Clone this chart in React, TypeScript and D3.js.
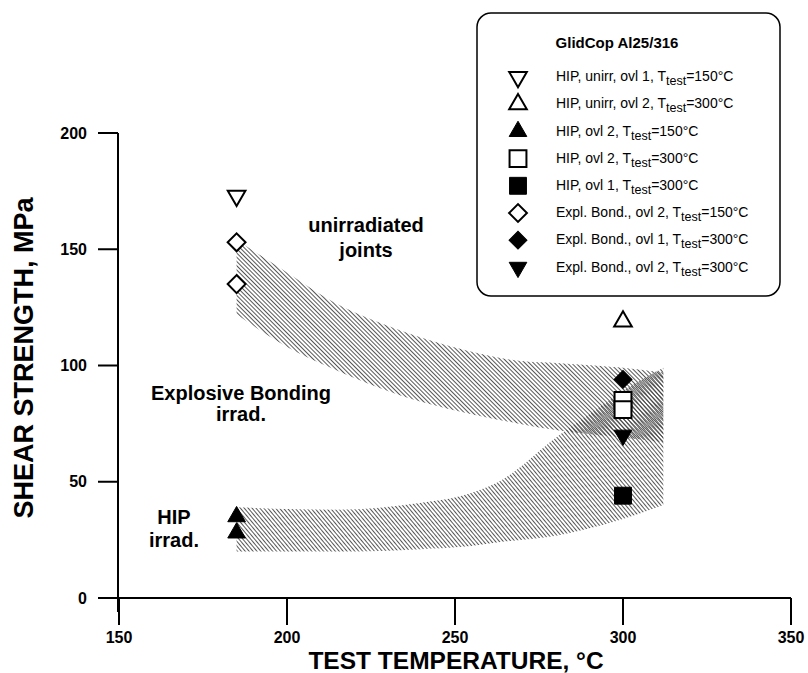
import React from "react";
import * as d3 from "d3";

// ---- data ----
const xTicks = [150, 200, 250, 300, 350];
const yTicks = [0, 50, 100, 150, 200];

// Explosive bonding irradiated band: [temp, low, high]
const ebBandTemps = [185, 200, 213, 234, 252, 269, 281, 300, 312];
const ebBandHigh = [154, 140, 128, 115, 107, 102, 101, 99, 97];
const ebBandLow = [122, 108, 99, 87, 80, 75, 72, 69, 67];

// HIP irradiated band
const hipBandTemps = [185, 215, 240, 252, 263, 281, 290, 300, 312];
const hipBandHigh = [39, 38, 41, 44, 50, 70, 79, 89, 99];
const hipBandLow = [20, 20, 21, 22, 24, 27, 30, 34, 40];

// markers
const hipUnirrOvl1_150: [number, number][] = [[185, 173]];
const hipUnirrOvl2_300: [number, number][] = [[300, 119]];
const hipOvl2_150: [number, number][] = [[185, 35], [185, 28]];
const hipOvl2_300: [number, number][] = [[300, 85], [300, 81]];
const hipOvl1_300: [number, number][] = [[300, 44]];
const ebOvl2_150: [number, number][] = [[185, 153], [185, 135]];
const ebOvl1_300: [number, number][] = [[300, 94]];
const ebOvl2_300: [number, number][] = [[300, 70]];

type Kind = "triDown" | "triUp" | "square" | "diamond";
const seriesList: { label: string; temp: string; kind: Kind; filled: boolean; data: [number, number][] }[] = [
  { label: "HIP, unirr, ovl 1, ", temp: "=150°C", kind: "triDown", filled: false, data: hipUnirrOvl1_150 },
  { label: "HIP, unirr, ovl 2, ", temp: "=300°C", kind: "triUp", filled: false, data: hipUnirrOvl2_300 },
  { label: "HIP, ovl 2, ", temp: "=150°C", kind: "triUp", filled: true, data: hipOvl2_150 },
  { label: "HIP, ovl 2, ", temp: "=300°C", kind: "square", filled: false, data: hipOvl2_300 },
  { label: "HIP, ovl 1, ", temp: "=300°C", kind: "square", filled: true, data: hipOvl1_300 },
  { label: "Expl. Bond., ovl 2, ", temp: "=150°C", kind: "diamond", filled: false, data: ebOvl2_150 },
  { label: "Expl. Bond., ovl 1, ", temp: "=300°C", kind: "diamond", filled: true, data: ebOvl1_300 },
  { label: "Expl. Bond., ovl 2, ", temp: "=300°C", kind: "triDown", filled: true, data: ebOvl2_300 },
];

const FONT = "'Liberation Sans', Arial, Helvetica, sans-serif";

const x = d3.scaleLinear().domain([150, 350]).range([119, 791]);
const y = d3.scaleLinear().domain([0, 200]).range([598, 133]);

function symbolPath(kind: Kind, scale: number) {
  if (kind === "triUp" || kind === "triDown") return d3.symbol(d3.symbolTriangle, 135 * scale)()!;
  if (kind === "square") return d3.symbol(d3.symbolSquare, 285 * scale)()!;
  return d3.symbol(d3.symbolSquare, 160 * scale)()!;
}
function Marker({ kind, filled, cx, cy, scale = 1 }: { kind: Kind; filled: boolean; cx: number; cy: number; scale?: number }) {
  const rot = kind === "triDown" ? 180 : kind === "diamond" ? 45 : 0;
  return (
    <path
      d={symbolPath(kind, scale)}
      transform={`translate(${cx},${cy}) rotate(${rot})`}
      fill={filled ? "#000" : "#fff"}
      stroke="#000"
      strokeWidth={filled ? 1 : 2}
    />
  );
}

function bandPath(temps: number[], low: number[], high: number[]) {
  const area = d3
    .area<number>()
    .x((_, i) => x(temps[i]))
    .y0((_, i) => y(low[i]))
    .y1((_, i) => y(high[i]))
    .curve(d3.curveMonotoneX);
  return area(temps)!;
}

export default function App() {
  const W = 808, H = 673;
  return (
    <svg width={W} height={H} style={{ position: "absolute", left: 0, top: 0, background: "#fff" }} fontFamily={FONT}>
      <defs>
        <pattern id="hatchA" width={3} height={3} patternUnits="userSpaceOnUse" patternTransform="rotate(-45)">
          <line x1={0.5} y1={0} x2={0.5} y2={3} stroke="#444" strokeWidth={0.9} />
        </pattern>
        <pattern id="hatchB" width={3} height={3} patternUnits="userSpaceOnUse" patternTransform="rotate(-40)">
          <line x1={1.5} y1={0} x2={1.5} y2={3} stroke="#444" strokeWidth={0.9} />
        </pattern>
      </defs>
      <rect width={W} height={H} fill="#fff" />

      {/* bands */}
      <path d={bandPath(ebBandTemps, ebBandLow, ebBandHigh)} fill="url(#hatchA)" />
      <path d={bandPath(hipBandTemps, hipBandLow, hipBandHigh)} fill="url(#hatchB)" />

      {/* axes */}
      <line x1={118} y1={y(200)} x2={118} y2={612} stroke="#000" strokeWidth={2} />
      <line x1={118} y1={y(0)} x2={x(350)} y2={y(0)} stroke="#000" strokeWidth={2} />
      {yTicks.map((t) => (
        <g key={"y" + t}>
          <line x1={98} x2={118} y1={y(t)} y2={y(t)} stroke="#000" strokeWidth={2} />
          <text x={87} y={y(t)} dy="0.35em" textAnchor="end" fontSize={16} fontWeight="bold">
            {t}
          </text>
        </g>
      ))}
      {xTicks.map((t) => (
        <g key={"x" + t}>
          <line x1={x(t)} x2={x(t)} y1={y(0)} y2={625} stroke="#000" strokeWidth={2} />
          <text x={x(t)} y={637} dy="0.35em" textAnchor="middle" fontSize={16} fontWeight="bold">
            {t}
          </text>
        </g>
      ))}
      <text x={456} y={669} textAnchor="middle" fontSize={24.5} fontWeight="bold">
        TEST TEMPERATURE, °C
      </text>
      <text transform="translate(33,358) rotate(-90)" textAnchor="middle" fontSize={27} fontWeight="bold">
        SHEAR STRENGTH, MPa
      </text>

      {/* annotations */}
      <g fontSize={20} fontWeight="bold" textAnchor="middle">
        <text x={366} y={232}>unirradiated</text>
        <text x={366} y={257}>joints</text>
        <text x={241} y={400}>Explosive Bonding</text>
        <text x={241} y={421}>irrad.</text>
        <text x={174} y={524}>HIP</text>
        <text x={174} y={547}>irrad.</text>
      </g>

      {/* markers */}
      {seriesList.map((s, i) =>
        s.data.map((d, j) => <Marker key={i + "-" + j} kind={s.kind} filled={s.filled} cx={x(d[0])} cy={y(d[1])} />)
      )}

      {/* legend */}
      <rect x={477} y={13} width={303} height={283} rx={14} fill="#fff" stroke="#000" strokeWidth={1.5} />
      <text x={617} y={48} textAnchor="middle" fontSize={15} fontWeight="bold">
        GlidCop Al25/316
      </text>
      {seriesList.map((s, i) => {
        const ry = 77 + i * 27.2;
        return (
          <g key={"lg" + i}>
            <Marker kind={s.kind} filled={s.filled} cx={518} cy={ry} scale={1} />
            <text x={556} y={ry} dy="0.3em" fontSize={14}>
              {s.label}T
              <tspan fontSize={12.5} dy={4}>test</tspan>
              <tspan dy={-4}>{s.temp}</tspan>
            </text>
          </g>
        );
      })}
    </svg>
  );
}
